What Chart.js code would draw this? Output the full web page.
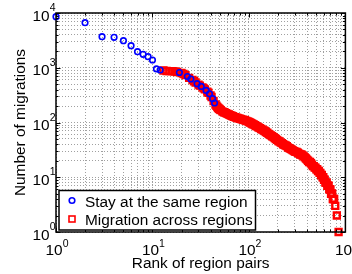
<!DOCTYPE html>
<html>
<head>
<meta charset="utf-8">
<script src="https://cdn.jsdelivr.net/npm/chart.js@4.4.1/dist/chart.umd.min.js"></script>
<style>
html, body { margin: 0; padding: 0; background: #fff; }
#wrap { width: 352px; height: 274px; }
</style>
</head>
<body>
<div id="wrap"><canvas id="rankChart" width="352" height="274"></canvas></div>
<script>
var seriesNames = ['Stay at the same region', 'Migration across regions'];
var xTitle = 'Rank of region pairs';
var yTitle = 'Number of migrations';
var xTickExponents = [0, 1, 2, 3];
var yTickExponents = [0, 1, 2, 3, 4];

// ranks and counts
var stayRanks  = [1, 2, 3, 4, 5, 6, 7, 8, 9, 10, 11, 12, 19, 23, 25, 29, 32, 36, 39, 42, 44];
var stayCounts = [8560, 6650, 3700, 3600, 3120, 2530, 1965, 1760, 1590, 1385, 950, 910, 819, 692, 623, 511, 455, 386, 334, 272, 227];

var acrossRanks = [13, 14, 15, 16, 17, 18, 20, 21, 22, 24, 26, 27, 28, 30, 31, 33, 34, 35, 37, 38,
    40, 41, 43, 45, 46, 47, 48, 49, 50, 51, 53, 55, 56, 58, 60, 62, 64, 66, 68, 70,
    72, 74, 76, 78, 81, 83, 86, 88, 91, 94, 97, 100, 103, 106, 109, 112, 116, 119, 123, 126,
    130, 134, 138, 142, 146, 150, 155, 160, 164, 169, 174, 180, 185, 190, 196, 202, 208, 214, 220, 226,
    233, 240, 247, 254, 262, 270, 278, 286, 295, 303, 312, 321, 331, 340, 350, 360, 370, 380, 390, 400,
    410, 420, 430, 440, 450, 460, 470, 480, 490, 500, 510, 520, 530, 540, 550, 560, 570, 580, 590, 600,
    610, 620, 630, 640, 650, 660, 670, 680, 690, 700, 710, 720, 730, 740, 750, 765, 785, 815, 850];
var acrossCounts = [891, 872, 870, 865, 854, 836, 802, 769, 731, 655, 597, 566, 538, 492, 472, 437, 421, 404, 367, 350,
    311, 292, 247, 213, 202, 192, 184, 178, 173, 168, 160, 155, 152, 148, 144, 140, 136, 133, 130, 127,
    125, 123, 121, 119, 117, 115, 113, 112, 110, 107, 105, 102, 100, 97, 94, 92, 89, 86, 84, 81,
    79, 76, 74, 72, 70, 67, 65, 62, 60, 58, 56, 54, 52, 50, 48, 46, 45, 43, 42, 40,
    39, 38, 37, 35, 34, 33, 32, 31, 30, 29, 29, 28, 27, 26, 26, 25, 24, 23, 22, 21,
    20, 19, 19, 18, 17, 16, 16, 15, 15, 14, 14, 13, 13, 12, 12, 11, 11, 10, 10, 9,
    9, 8, 8, 8, 7, 7, 7, 6, 6, 6, 5, 5, 5, 4, 4, 4, 3, 2, 1];

var baseFont = '15.4px "Liberation Sans", Arial, sans-serif';
var expFont = '10.5px "Liberation Sans", Arial, sans-serif';

function toPoints(xs, ys) {
    return xs.map(function (x, i) { return { x: x, y: ys[i] }; });
}

function logGridTicks(scale) {
    var ticks = [];
    var lo = Math.round(Math.log10(scale.min)), hi = Math.round(Math.log10(scale.max));
    for (var p = lo; p < hi; p++) {
        for (var k = 1; k < 10; k++) ticks.push({ value: k * Math.pow(10, p) });
    }
    ticks.push({ value: scale.max });
    scale.ticks = ticks;
}

function isMajor(v) {
    var l = Math.log10(v);
    return Math.abs(l - Math.round(l)) < 1e-9;
}

function drawPower(ctx, exp, x, y, axis) {
    ctx.font = baseFont;
    var wb = ctx.measureText('10').width;
    ctx.font = expFont;
    var we = ctx.measureText(String(exp)).width;
    var left, baseY;
    if (axis === 'x') {
        left = x - (wb + we) / 2 + 1;
        baseY = 254.5;
    } else {
        left = 55.5 - we - wb;
        baseY = y + 7.5;
    }
    ctx.textAlign = 'left';
    ctx.textBaseline = 'alphabetic';
    ctx.font = baseFont;
    ctx.fillText('10', left, baseY);
    ctx.font = expFont;
    ctx.fillText(String(exp), left + wb, baseY - (axis === 'x' ? 8 : 9.5));
}

var frameAndText = {
    id: 'frameAndText',
    afterDraw: function (chart) {
        var ctx = chart.ctx, a = chart.chartArea;
        var xs = chart.scales.x, ys = chart.scales.y;
        ctx.save();
        ctx.strokeStyle = '#000';
        ctx.fillStyle = '#000';

        // inner tick marks on all four sides
        ctx.lineWidth = 1;
        ctx.beginPath();
        xs.ticks.forEach(function (t) {
            var px = Math.round(xs.getPixelForValue(t.value)) + 0.5;
            var len = isMajor(t.value) ? 4.5 : 2.5;
            ctx.moveTo(px, a.bottom); ctx.lineTo(px, a.bottom - len);
            ctx.moveTo(px, a.top); ctx.lineTo(px, a.top + len);
        });
        ys.ticks.forEach(function (t) {
            var py = Math.round(ys.getPixelForValue(t.value)) + 0.5;
            var len = isMajor(t.value) ? 4.5 : 2.5;
            ctx.moveTo(a.left, py); ctx.lineTo(a.left + len, py);
            ctx.moveTo(a.right, py); ctx.lineTo(a.right - len, py);
        });
        ctx.stroke();

        ctx.lineWidth = 1.5;
        ctx.strokeRect(a.left, a.top, a.right - a.left, a.bottom - a.top);

        xTickExponents.forEach(function (e) {
            drawPower(ctx, e, xs.getPixelForValue(Math.pow(10, e)), 0, 'x');
        });
        yTickExponents.forEach(function (e) {
            drawPower(ctx, e, 0, ys.getPixelForValue(Math.pow(10, e)), 'y');
        });

        ctx.font = baseFont;
        ctx.textAlign = 'center';
        ctx.textBaseline = 'alphabetic';
        ctx.fillText(xTitle, (a.left + a.right) / 2, 268);
        ctx.save();
        ctx.translate(24.5, (a.top + a.bottom) / 2);
        ctx.rotate(-Math.PI / 2);
        ctx.fillText(yTitle, 0, 0);
        ctx.restore();

        // legend box
        ctx.fillStyle = '#fff';
        ctx.fillRect(59, 190.5, 196.5, 39.5);
        ctx.lineWidth = 1.5;
        ctx.strokeRect(59, 190.5, 196.5, 39.5);

        var ds = chart.data.datasets;
        ctx.lineWidth = ds[0].pointBorderWidth;
        ctx.strokeStyle = ds[0].pointBorderColor;
        ctx.beginPath();
        ctx.arc(72, 200.5, ds[0].pointRadius, 0, Math.PI * 2);
        ctx.stroke();
        ctx.lineWidth = 1.6;
        ctx.strokeStyle = ds[1].pointBorderColor;
        ctx.strokeRect(69, 216, 6, 6);

        ctx.fillStyle = '#000';
        ctx.textAlign = 'left';
        ctx.fillText(ds[0].label, 85, 206.5);
        ctx.fillText(ds[1].label, 85, 225);
        ctx.restore();
    }
};

var gridStyle = { color: '#a0a0a0', lineWidth: 1, drawTicks: false };

var rankChart = new Chart(document.getElementById('rankChart'), {
    type: 'scatter',
    data: {
        datasets: [{
            label: seriesNames[0],
            data: toPoints(stayRanks, stayCounts),
            pointStyle: 'circle',
            pointRadius: 2.8,
            pointBorderWidth: 1.6,
            pointBorderColor: '#0000ff',
            pointBackgroundColor: 'rgba(0,0,0,0)',
            clip: false
        }, {
            label: seriesNames[1],
            data: toPoints(acrossRanks, acrossCounts),
            pointStyle: 'rect',
            pointRadius: 4.2,
            pointBorderWidth: 2.4,
            pointBorderColor: '#ff0000',
            pointBackgroundColor: 'rgba(0,0,0,0)',
            clip: false
        }]
    },
    options: {
        responsive: false,
        animation: false,
        devicePixelRatio: 1,
        events: [],
        layout: { padding: { left: 0, right: 6, top: 13, bottom: 0 } },
        plugins: { legend: { display: false }, tooltip: { enabled: false } },
        scales: {
            x: {
                type: 'logarithmic', min: 1, max: 1000,
                afterBuildTicks: logGridTicks,
                afterFit: function (s) { s.height = 42; },
                ticks: { display: false },
                grid: gridStyle,
                border: { display: false, dash: [1, 2] }
            },
            y: {
                type: 'logarithmic', min: 1, max: 10000,
                afterBuildTicks: logGridTicks,
                afterFit: function (s) { s.width = 56; },
                ticks: { display: false },
                grid: gridStyle,
                border: { display: false, dash: [1, 2] }
            }
        }
    },
    plugins: [frameAndText]
});
</script>
</body>
</html>
